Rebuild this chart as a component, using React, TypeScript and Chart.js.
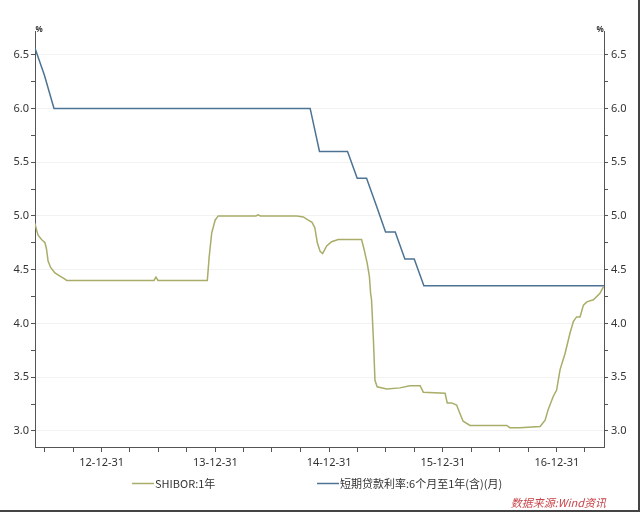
import React, { useEffect, useRef } from 'react';
import { Chart, registerables } from 'chart.js';

Chart.register(...registerables);

// SHIBOR 1Y
const shiborDates = [
  '2012-05-31', '2012-06-05', '2012-06-10', '2012-06-21', '2012-07-02', '2012-07-07', '2012-07-12',
  '2012-07-20', '2012-08-03', '2012-08-19', '2012-08-30', '2012-09-10', '2013-06-17', '2013-06-23',
  '2013-06-30', '2013-12-05', '2013-12-11', '2013-12-19', '2013-12-30', '2014-01-09', '2014-05-10',
  '2014-05-17', '2014-05-24', '2014-09-18', '2014-10-09', '2014-10-25', '2014-11-06', '2014-11-15',
  '2014-11-23', '2014-12-02', '2014-12-10', '2014-12-23', '2015-01-08', '2015-01-29', '2015-04-14',
  '2015-04-22', '2015-05-02', '2015-05-09', '2015-05-13', '2015-05-16', '2015-05-22',
  '2015-05-27', '2015-06-03', '2015-07-04', '2015-08-15', '2015-09-16', '2015-10-19', '2015-10-29',
  '2016-01-07', '2016-01-14', '2016-01-28', '2016-02-13', '2016-02-24', '2016-03-05', '2016-03-27',
  '2016-05-19', '2016-07-23', '2016-08-02', '2016-09-03', '2016-11-07', '2016-11-23', '2016-12-03',
  '2016-12-19', '2016-12-30', '2017-01-10', '2017-01-26', '2017-02-11', '2017-02-22', '2017-03-04',
  '2017-03-15', '2017-03-26', '2017-04-06', '2017-04-27', '2017-05-18', '2017-05-29',
];
const shiborValues = [
  4.93, 4.87, 4.82, 4.78, 4.75, 4.69, 4.58,
  4.52, 4.47, 4.44, 4.42, 4.40, 4.40, 4.43,
  4.40, 4.40, 4.62, 4.84, 4.96, 5.00, 5.00,
  5.01, 5.00, 5.00, 4.99, 4.96, 4.94, 4.89,
  4.75, 4.67, 4.65, 4.72, 4.76, 4.78, 4.78,
  4.69, 4.56, 4.44, 4.28, 4.22, 3.85,
  3.47, 3.41, 3.39, 3.40, 3.42, 3.42, 3.36,
  3.35, 3.26, 3.26, 3.24, 3.16, 3.09, 3.05,
  3.05, 3.05, 3.03, 3.03, 3.04, 3.10, 3.20,
  3.32, 3.38, 3.57, 3.72, 3.91, 4.02, 4.06,
  4.06, 4.17, 4.20, 4.22, 4.28, 4.34,
];

// Short-term loan rate 6M-1Y (monthly, change points)
const loanDates = [
  '2012-05-31', '2012-06-30', '2012-07-31', '2014-10-31', '2014-11-30', '2015-02-28', '2015-03-31',
  '2015-04-30', '2015-05-31', '2015-06-30', '2015-07-31', '2015-08-31', '2015-09-30', '2015-10-31',
  '2017-05-31',
];
const loanValues = [
  6.56, 6.31, 6.00, 6.00, 5.60, 5.60, 5.35,
  5.35, 5.10, 4.85, 4.85, 4.60, 4.60, 4.35,
  4.35,
];

const xMinDate = '2012-05-31';
const xMaxDate = '2017-05-31';
const xTickDates = [
  '2012-06-30', '2012-09-30', '2012-12-31', '2013-03-31', '2013-06-30', '2013-09-30', '2013-12-31',
  '2014-03-31', '2014-06-30', '2014-09-30', '2014-12-31', '2015-03-31', '2015-06-30', '2015-09-30',
  '2015-12-31', '2016-03-31', '2016-06-30', '2016-09-30', '2016-12-31', '2017-03-31',
];
const xTickLabels = xTickDates.map((d) => (d.endsWith('12-31') ? d.slice(2) : ''));

const yMin = 2.85;
const yMax = 6.72;
const yTickValues = [3.0, 3.25, 3.5, 3.75, 4.0, 4.25, 4.5, 4.75, 5.0, 5.25, 5.5, 5.75, 6.0, 6.25, 6.5];
const yTickLabels = ['3.0', '', '3.5', '', '4.0', '', '4.5', '', '5.0', '', '5.5', '', '6.0', '', '6.5'];

const seriesNames = ['SHIBOR:1年', '短期贷款利率:6个月至1年(含)(月)'];
const seriesColors = ['#a9ad68', '#4c7393'];
const sourceText = '数据来源:Wind资讯';
const unitText = '%';

const toMs = (s: string) => Date.UTC(+s.slice(0, 4), +s.slice(5, 7) - 1, +s.slice(8, 10));

const FONT = '"Noto Sans", "Noto Sans CJK SC", sans-serif';
const CJK = '"Noto Sans CJK SC", "Noto Sans", sans-serif';

const decor = {
  id: 'decor',
  afterDraw(chart: any) {
    const ctx = chart.ctx;
    const area = chart.chartArea;
    ctx.save();
    // unit labels
    ctx.fillStyle = '#333';
    ctx.font = `bold 8px ${FONT}`;
    ctx.textBaseline = 'middle';
    ctx.textAlign = 'center';
    ctx.fillText(unitText, area.left + 4, 30);
    ctx.fillText(unitText, area.right - 4, 30);
    // legend
    const ly = 483.5;
    const items = [
      { x: 132, name: seriesNames[0], color: seriesColors[0] },
      { x: 317, name: seriesNames[1], color: seriesColors[1] },
    ];
    items.forEach((it) => {
      ctx.strokeStyle = it.color;
      ctx.lineWidth = 1.5;
      ctx.beginPath();
      ctx.moveTo(it.x, ly);
      ctx.lineTo(it.x + 22, ly);
      ctx.stroke();
      ctx.fillStyle = '#333';
      ctx.font = `11px ${CJK}`;
      ctx.textAlign = 'left';
      ctx.textBaseline = 'middle';
      ctx.fillText(it.name, it.x + 23, ly);
    });
    // source
    ctx.fillStyle = '#c8464b';
    ctx.font = `italic 11px ${CJK}`;
    ctx.textAlign = 'right';
    ctx.textBaseline = 'middle';
    ctx.fillText(sourceText, 606, 503);
    // frame
    ctx.fillStyle = '#444';
    ctx.fillRect(0, 510, 640, 2);
    ctx.fillRect(638, 0, 2, 512);
    ctx.restore();
  },
};

export default function App() {
  const ref = useRef<HTMLCanvasElement | null>(null);

  useEffect(() => {
    if (!ref.current) return;
    const yCommon = (pos: 'left' | 'right') => ({
      type: 'linear' as const,
      position: pos,
      min: yMin,
      max: yMax,
      afterBuildTicks: (s: any) => {
        s.ticks = yTickValues.map((v) => ({ value: v }));
      },
      afterFit: (s: any) => {
        s.width = pos === 'left' ? 35 : 36;
      },
      ticks: {
        autoSkip: false,
        padding: pos === 'left' ? 2 : 3,
        color: '#333',
        font: { family: FONT, size: 11 },
        callback: (_v: any, i: number) => yTickLabels[i],
      },
      grid: {
        drawOnChartArea: pos === 'left',
        color: (c: any) =>
          c.tick && Math.abs(c.tick.value * 2 - Math.round(c.tick.value * 2)) < 1e-6 ? '#f2f2f2' : 'rgba(0,0,0,0)',
        tickColor: '#555',
        tickLength: 4,
        lineWidth: 1,
      },
      border: { display: true, color: '#555', width: 1 },
    });

    const chart = new Chart(ref.current, {
      type: 'line',
      data: {
        datasets: [
          {
            label: seriesNames[0],
            data: shiborDates.map((d, i) => ({ x: toMs(d), y: shiborValues[i] })),
            borderColor: seriesColors[0],
            backgroundColor: seriesColors[0],
            borderWidth: 1.5,
            pointRadius: 0,
            tension: 0,
            yAxisID: 'y',
          },
          {
            label: seriesNames[1],
            data: loanDates.map((d, i) => ({ x: toMs(d), y: loanValues[i] })),
            borderColor: seriesColors[1],
            backgroundColor: seriesColors[1],
            borderWidth: 1.5,
            pointRadius: 0,
            tension: 0,
            yAxisID: 'y',
          },
        ],
      },
      options: {
        responsive: false,
        animation: false,
        layout: { padding: { top: 31, left: 0, right: 0, bottom: 0 } },
        plugins: { legend: { display: false }, tooltip: { enabled: false } },
        scales: {
          x: {
            type: 'linear',
            position: 'bottom',
            min: toMs(xMinDate),
            max: toMs(xMaxDate),
            afterBuildTicks: (s: any) => {
              s.ticks = xTickDates.map((d) => ({ value: toMs(d) }));
            },
            afterFit: (s: any) => {
              s.height = 65;
            },
            ticks: {
              autoSkip: false,
              maxRotation: 0,
              minRotation: 0,
              padding: 4,
              color: '#333',
              font: { family: FONT, size: 11 },
              callback: (_v: any, i: number) => xTickLabels[i],
            },
            grid: { drawOnChartArea: false, tickColor: '#555', tickLength: 5 },
            border: { display: true, color: '#555', width: 1 },
          },
          y: yCommon('left'),
          y2: yCommon('right'),
        } as any,
      },
      plugins: [decor],
    });
    return () => chart.destroy();
  }, []);

  return (
    <div style={{ position: 'fixed', left: 0, top: 0, width: 640, height: 512, background: '#fff' }}>
      <canvas ref={ref} width={640} height={512} style={{ display: 'block', width: 640, height: 512 }} />
    </div>
  );
}
